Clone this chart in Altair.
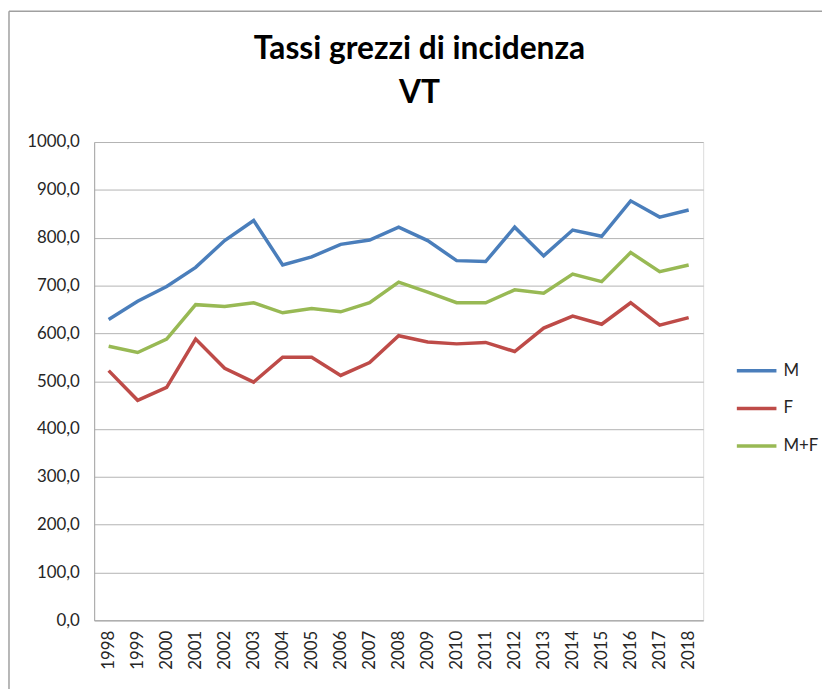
import altair as alt
import pandas as pd

years = [str(y) for y in range(1998, 2019)]
m_vals = [629, 667, 698, 738, 794, 836, 743, 760, 786, 795, 822,
          794, 752, 750, 822, 762, 816, 803, 877, 843, 858]
f_vals = [522, 460, 487, 588, 527, 498, 550, 550, 512, 539, 595,
          582, 578, 581, 562, 611, 636, 619, 664, 617, 633]
mf_vals = [573, 560, 588, 660, 656, 664, 643, 652, 645, 664, 707,
           686, 664, 664, 691, 684, 724, 708, 769, 729, 743]
series = ["M", "F", "M+F"]
colors = ["#4A7EBB", "#BE4B48", "#98B954"]

rows = []
for name, vals in zip(series, [m_vals, f_vals, mf_vals]):
    for y, v in zip(years, vals):
        rows.append({"Anno": y, "Valore": v, "Serie": name})
df = pd.DataFrame(rows)

FONT = "Lato"

lines = alt.Chart(df).mark_line(strokeWidth=3.5).encode(
    x=alt.X("Anno:O", sort=years, title=None,
            axis=alt.Axis(labelAngle=-90, labelFontSize=17, labelFont=FONT,
                          labelColor="#262626", ticks=False, labelPadding=10,
                          domainColor="#a6a6a6", grid=False)),
    y=alt.Y("Valore:Q", title=None,
            scale=alt.Scale(domain=[0, 1000], nice=False),
            axis=alt.Axis(values=list(range(0, 1001, 100)),
                          labelExpr="replace(format(datum.value, '.1f'), '.', ',')",
                          labelFontSize=17, labelFont=FONT, labelColor="#262626",
                          ticks=False, labelPadding=15, domainColor="#a6a6a6",
                          gridColor="#b3b3b3", gridWidth=1)),
    color=alt.Color("Serie:N", sort=series,
                    scale=alt.Scale(domain=series, range=colors),
                    legend=alt.Legend(title=None, orient="none", legendX=647, legendY=209,
                                      symbolType="stroke", symbolSize=1600,
                                      symbolStrokeWidth=3.5, labelFontSize=17,
                                      labelFont=FONT, labelColor="#262626",
                                      labelOffset=5, rowPadding=8, padding=0)),
)

one = pd.DataFrame({"a": [0]})
frame_left = alt.Chart(one).mark_rule(color="#a0a0a0", strokeWidth=1.5).encode(
    x=alt.value(-86), y=alt.value(-132), y2=alt.value(700)
)
frame_top = alt.Chart(one).mark_rule(color="#a0a0a0", strokeWidth=1.5).encode(
    x=alt.value(-86), x2=alt.value(900), y=alt.value(-132)
)

chart = alt.layer(frame_left, frame_top, lines).properties(
    width=615, height=483,
    title=alt.Title(["Tassi grezzi di incidenza", "VT"], fontSize=32, font=FONT,
                    fontWeight="bold", color="#000000", anchor="middle",
                    dx=21, offset=-100, lineHeight=44),
    autosize=alt.AutoSizeParams(type="none"),
    padding={"left": 87, "top": 132, "right": 120, "bottom": 66},
).configure_view(stroke=None).configure(background="white")

chart.save("out.html", embed_options={"renderer": "svg", "actions": False})
